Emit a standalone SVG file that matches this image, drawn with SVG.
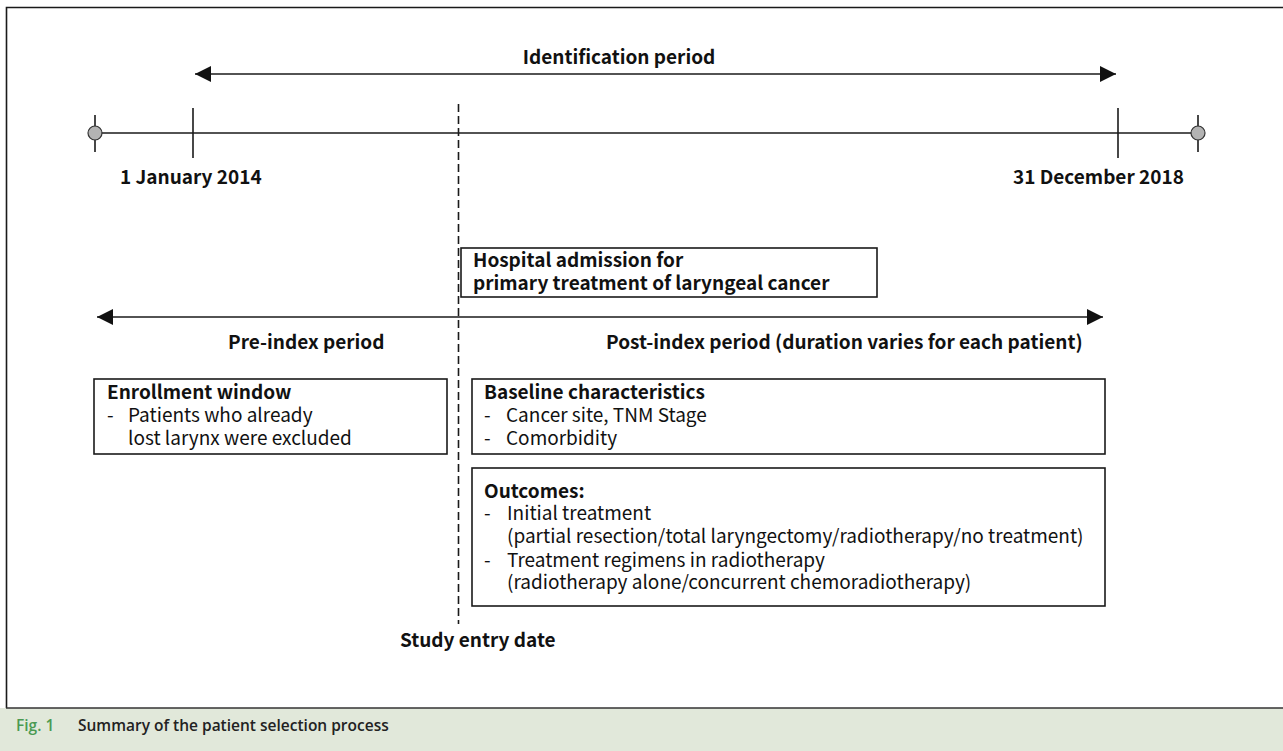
<svg xmlns="http://www.w3.org/2000/svg" width="1283" height="751" viewBox="0 0 1283 751">
<style>
.ln{stroke:#1a1a1a;stroke-width:1.6;fill:none}
.bx{stroke:#1a1a1a;stroke-width:1.6;fill:#fff}
.b{font-family:"Noto Sans CJK JP","Liberation Sans",sans-serif;font-weight:700;font-size:19px;fill:#111}
.r{font-family:"Noto Sans CJK JP","Liberation Sans",sans-serif;font-weight:400;font-size:19px;fill:#111}
.cap{font-family:"Open Sans","Liberation Sans",sans-serif;font-weight:600;font-size:15.5px}
</style>
<defs>
<marker id="ah" markerUnits="userSpaceOnUse" markerWidth="18" markerHeight="16" refX="16" refY="8" orient="auto-start-reverse">
<path d="M0,0 L16,8 L0,16 Z" fill="#111"/>
</marker>
</defs>
<rect x="0" y="0" width="1283" height="751" fill="#fff"/>
<path d="M6.5,751 V7.5 H1283" class="ln" stroke-width="1.4"/>
<rect x="0" y="708" width="1283" height="43" fill="#e1e8da"/>
<line x1="6" y1="708" x2="1283" y2="708" stroke="#333" stroke-width="1.5"/>
<text x="16" y="731" class="cap" fill="#4a9a52">Fig. 1</text>
<text x="78" y="731" class="cap" fill="#222">Summary of the patient selection process</text>

<g id="connectors">
<line x1="195" y1="74" x2="1116" y2="74" class="ln" stroke-width="2" marker-start="url(#ah)" marker-end="url(#ah)"/>
<line x1="95" y1="133" x2="1198" y2="133" class="ln" stroke-width="1.6"/>
<line x1="97" y1="317" x2="1103" y2="317" class="ln" stroke-width="2" marker-start="url(#ah)" marker-end="url(#ah)"/>
<line x1="458.5" y1="104" x2="458.5" y2="624" class="ln" stroke-width="1.6" stroke-dasharray="8,4"/>
</g>

<g id="timeline-marks">
<line x1="95" y1="115" x2="95" y2="152" class="ln"/>
<circle cx="95" cy="133" r="7" fill="#b3b3b3" stroke="#333" stroke-width="1.2"/>
<line x1="1198" y1="115" x2="1198" y2="152" class="ln"/>
<circle cx="1198" cy="133" r="7" fill="#b3b3b3" stroke="#333" stroke-width="1.2"/>
<line x1="193" y1="108" x2="193" y2="158" class="ln"/>
<line x1="1118" y1="108" x2="1118" y2="158" class="ln"/>
</g>

<g id="labels">
<text x="619" y="64" class="b" text-anchor="middle">Identification period</text>
<text x="120" y="184" class="b">1 January 2014</text>
<text x="1013" y="184" class="b">31 December 2018</text>
<text x="228" y="349" class="b">Pre-index period</text>
<text x="606" y="349" class="b">Post-index period (duration varies for each patient)</text>
<text x="400" y="647" class="b">Study entry date</text>
</g>

<g id="hospital">
<rect x="461" y="248" width="416" height="49" class="bx"/>
<text x="473" y="267" class="b">Hospital admission for</text>
<text x="473" y="290" class="b">primary treatment of laryngeal cancer</text>
</g>

<g id="enrollment">
<rect x="94" y="379" width="353" height="75" class="bx"/>
<text x="107" y="399" class="b">Enrollment window</text>
<text x="107" y="422" class="r">-</text>
<text x="128" y="422" class="r">Patients who already</text>
<text x="128" y="445" class="r">lost larynx were excluded</text>
</g>

<g id="baseline">
<rect x="472" y="379" width="633" height="75" class="bx"/>
<text x="484" y="399" class="b">Baseline characteristics</text>
<text x="484" y="422" class="r">-</text>
<text x="506" y="422" class="r">Cancer site, TNM Stage</text>
<text x="484" y="445" class="r">-</text>
<text x="506" y="445" class="r">Comorbidity</text>
</g>

<g id="outcomes">
<rect x="472" y="468" width="633" height="138" class="bx"/>
<text x="484" y="498" class="b">Outcomes:</text>
<text x="484" y="520" class="r">-</text>
<text x="507" y="520" class="r">Initial treatment</text>
<text x="507" y="543" class="r">(partial resection/total laryngectomy/radiotherapy/no treatment)</text>
<text x="484" y="567" class="r">-</text>
<text x="507" y="567" class="r">Treatment regimens in radiotherapy</text>
<text x="507" y="589" class="r">(radiotherapy alone/concurrent chemoradiotherapy)</text>
</g>
</svg>
